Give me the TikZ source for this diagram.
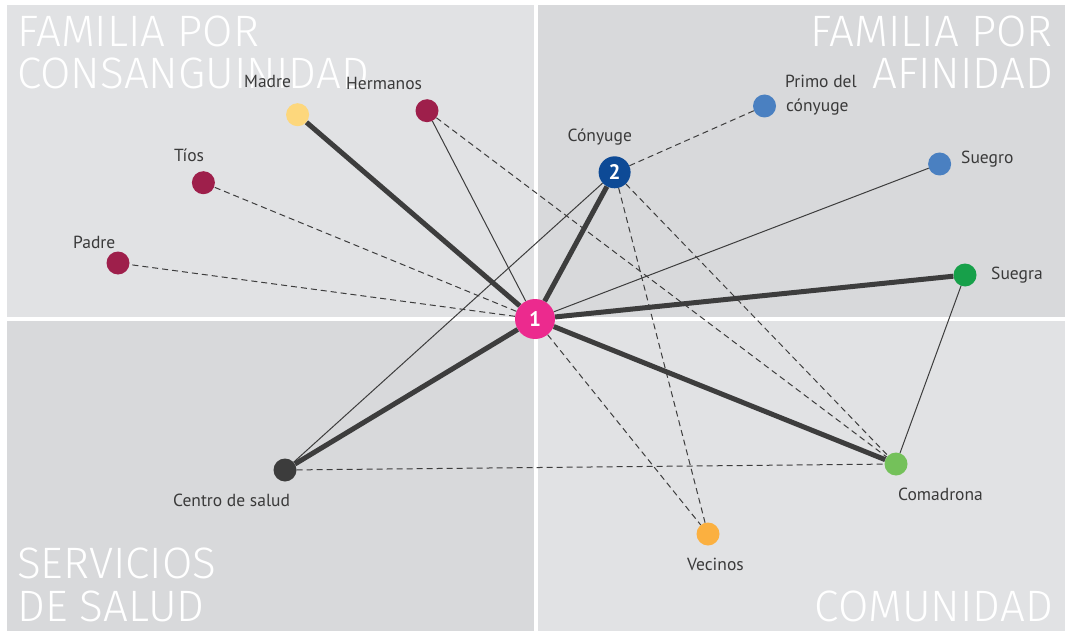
\documentclass[tikz,border=0pt]{standalone}
\usepackage{fontspec}
\setmainfont{PT Sans}
\newfontfamily\titlefont{Fira Sans Light}
\definecolor{panelL}{HTML}{E1E2E4}
\definecolor{panelD}{HTML}{D8D9DB}
\definecolor{edgec}{HTML}{3D3D3D}
\definecolor{txt}{HTML}{3A3A3A}
\definecolor{cpink}{HTML}{EC2A8E}
\definecolor{cblue}{HTML}{0D4A96}
\definecolor{ccrim}{HTML}{9E1F4B}
\definecolor{cyel}{HTML}{FDD77C}
\definecolor{clblue}{HTML}{4A80C1}
\definecolor{cgreen}{HTML}{17A04A}
\definecolor{clgreen}{HTML}{74C15A}
\definecolor{corange}{HTML}{FBB040}
\definecolor{cdark}{HTML}{3C3C3C}
\begin{document}
\begin{tikzpicture}[x=1pt,y=-1pt,
  titletext/.style={font=\titlefont\fontsize{44}{44}\selectfont, text=white, inner sep=0, text depth=0pt},
  lbl/.style={font=\fontsize{17.5}{20}\selectfont, text=txt, inner sep=0, anchor=base west},
  dot/.style={circle, fill=#1, inner sep=0, minimum size=23pt},
  bignum/.style={font=\bfseries\fontsize{21}{21}\selectfont, text=white},
  thickedge/.style={line width=5pt, draw=edgec},
  thinedge/.style={line width=1pt, draw=edgec},
  dashedge/.style={line width=1pt, draw=edgec, dash pattern=on 6pt off 4pt}]
\useasboundingbox (0,0) rectangle (1065,631);
\fill[white] (0,0) rectangle (1065,631);
\fill[panelL] (7,5) rectangle (534,317);
\fill[panelD] (538,5) rectangle (1065,317);
\fill[panelD] (7,321) rectangle (534,631);
\fill[panelL] (538,321) rectangle (1065,631);
% quadrant titles
\node[titletext, anchor=base west] (t1a) at (17,47) {FAMILIA POR};
\node[titletext, anchor=base west] (t1b) at (17,89) {CONSANGUINIDAD};
\node[titletext, anchor=base east] (t2a) at (1053,47) {FAMILIA POR};
\node[titletext, anchor=base east] (t2b) at (1053,89) {AFINIDAD};
\node[titletext, anchor=base west] (t3a) at (17,578) {SERVICIOS};
\node[titletext, anchor=base west] (t3b) at (17,621) {DE SALUD};
\node[titletext, anchor=base east] (t4) at (1053,621) {COMUNIDAD};
% nodes
\node[dot=cpink, minimum size=40pt, bignum] (n1) at (535,319) {1};
\node[dot=cblue, minimum size=32pt, bignum] (n2) at (614.6,172.3) {2};
\node[dot=cyel] (madre) at (297.6,114.7) {};
\node[dot=ccrim] (herm) at (427,110.7) {};
\node[dot=ccrim] (tios) at (203.4,182.7) {};
\node[dot=ccrim] (padre) at (118,263) {};
\node[dot=clblue] (primo) at (764.5,106) {};
\node[dot=clblue] (suegro) at (939.6,164) {};
\node[dot=cgreen] (suegra) at (965,275) {};
\node[dot=clgreen] (coma) at (896,464) {};
\node[dot=corange] (vec) at (708,534) {};
\node[dot=cdark] (centro) at (285,470) {};
% labels
\node[lbl] (lmadre) at (244,88) {Madre};
\node[lbl] (lherm) at (346,90) {Hermanos};
\node[lbl] (ltios) at (174,162) {Tíos};
\node[lbl] (lpadre) at (73,248) {Padre};
\node[lbl] (lcony) at (567.5,142) {Cónyuge};
\node[lbl] (lprimo1) at (785,88) {Primo del};
\node[lbl] (lprimo2) at (786,112) {cónyuge};
\node[lbl] (lsuegro) at (961,164) {Suegro};
\node[lbl] (lsuegra) at (991,279) {Suegra};
\node[lbl] (lcoma) at (898,500) {Comadrona};
\node[lbl] (lvec) at (687,570) {Vecinos};
\node[lbl] (lcentro) at (173,506) {Centro de salud};
% connectors
\draw[thickedge] (n1) -- (madre);
\draw[thickedge] (n1) -- (n2);
\draw[thickedge] (n1) -- (suegra);
\draw[thickedge] (n1) -- (coma);
\draw[thickedge] (n1) -- (centro);
\draw[thinedge] (n1) -- (herm);
\draw[thinedge] (n1) -- (suegro);
\draw[thinedge] (n2) -- (centro);
\draw[thinedge] (suegra) -- (coma);
\draw[dashedge] (n1) -- (tios);
\draw[dashedge] (n1) -- (padre);
\draw[dashedge] (n1) -- (vec);
\draw[dashedge] (n2) -- (primo);
\draw[dashedge] (n2) -- (vec);
\draw[dashedge] (n2) -- (coma);
\draw[dashedge] (herm) -- (coma);
\draw[dashedge] (centro) -- (coma);
\end{tikzpicture}
\end{document}
